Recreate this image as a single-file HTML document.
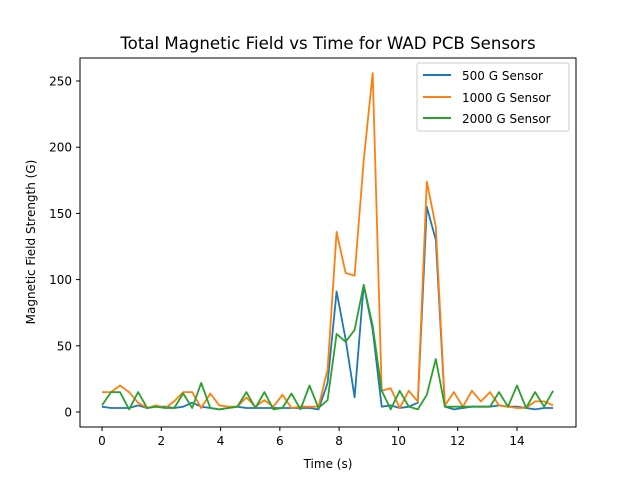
<!DOCTYPE html>
<html><head><meta charset="utf-8"><style>
body{margin:0;background:#fff;}
svg text{font-family:"DejaVu Sans","Liberation Sans",sans-serif;fill:#000;}
</style></head><body>
<svg id="chart" width="640" height="480" viewBox="0 0 640 480" xmlns="http://www.w3.org/2000/svg">
<rect width="640" height="480" fill="#fff"/>
<text x="328" y="49" font-size="16.6" text-anchor="middle">Total Magnetic Field vs Time for WAD PCB Sensors</text>
<g id="series"></g>
<g id="axes"></g>
<rect x="80" y="58" width="496" height="369" fill="none" stroke="#000" stroke-width="1"/>
<text x="328" y="468" font-size="12" text-anchor="middle">Time (s)</text>
<text x="0" y="0" font-size="12" text-anchor="middle" transform="translate(35,242) rotate(-90)">Magnetic Field Strength (G)</text>
<g>
<rect x="417" y="63" width="152" height="68" fill="#fff" fill-opacity="0.8" stroke="#ccc" rx="2"/>
<line x1="423" y1="75" x2="451" y2="75" stroke="#1f77b4" stroke-width="2"/>
<text x="462" y="80" font-size="12">500 G Sensor</text>
<line x1="423" y1="97" x2="451" y2="97" stroke="#ff7f0e" stroke-width="2"/>
<text x="462" y="102" font-size="12">1000 G Sensor</text>
<line x1="423" y1="118" x2="451" y2="118" stroke="#2ca02c" stroke-width="2"/>
<text x="462" y="123" font-size="12">2000 G Sensor</text>
</g>
</svg>
<script>
const timeStep = 0.3044;
const s500 = [4,3,3,3,5,3,4,4,3,4,7,4,3,2,3,4,3,3,3,3,3,3,3,3,2,22,91,55,11,96,62,4,5,3,4,7,155,130,4,2,3,4,4,4,5,4,4,3,2,3,3];
const s1000 = [15,15,20,15,7,3,5,3,8,15,15,3,14,5,4,4,11,4,9,4,13,3,4,4,4,32,136,105,103,190,256,16,18,3,16,8,174,140,5,15,4,16,8,15,5,4,3,3,8,8,5];
const s2000 = [5,15,15,2,15,3,4,3,3,14,3,22,3,2,3,4,15,3,15,2,3,14,2,20,3,9,59,53,62,96,65,16,2,16,4,2,13,40,4,4,4,4,4,4,15,4,20,3,15,4,16];
const xTicks = [0,2,4,6,8,10,12,14];
const yTicks = [0,50,100,150,200,250];
const NS="http://www.w3.org/2000/svg";
function xs(t){return 102+t*29.64;}
function ys(v){return 412-v*1.324;}
const axes=document.getElementById('axes');
xTicks.forEach(t=>{
  const l=document.createElementNS(NS,'line');
  l.setAttribute('x1',xs(t));l.setAttribute('x2',xs(t));l.setAttribute('y1',427);l.setAttribute('y2',431);l.setAttribute('stroke','#000');
  
  
  axes.appendChild(l);
  const tx=document.createElementNS(NS,'text');
  tx.setAttribute('x',xs(t));tx.setAttribute('y',445);tx.setAttribute('font-size','12');tx.setAttribute('text-anchor','middle');
  tx.textContent=t;
  
  
  axes.appendChild(tx);
});
yTicks.forEach(v=>{
  const l=document.createElementNS(NS,'line');
  l.setAttribute('x1',76);l.setAttribute('x2',80);l.setAttribute('y1',ys(v));l.setAttribute('y2',ys(v));l.setAttribute('stroke','#000');
  
  
  axes.appendChild(l);
  const tx=document.createElementNS(NS,'text');
  tx.setAttribute('x',72);tx.setAttribute('y',ys(v)+4.5);tx.setAttribute('font-size','12');tx.setAttribute('text-anchor','end');
  tx.textContent=v;
  
  
  axes.appendChild(tx);
});
const g=document.getElementById('series');
[[s500,'#1f77b4','line-500g'],[s1000,'#ff7f0e','line-1000g'],[s2000,'#2ca02c','line-2000g']].forEach(([d,c,n])=>{
  const p=document.createElementNS(NS,'polyline');
  p.setAttribute('points',d.map((v,i)=>xs(i*timeStep).toFixed(1)+','+ys(v).toFixed(1)).join(' '));
  p.setAttribute('fill','none');p.setAttribute('stroke',c);p.setAttribute('stroke-width','1.8');p.setAttribute('stroke-linejoin','round');
  
  
  g.appendChild(p);
});
</script>
</body></html>
